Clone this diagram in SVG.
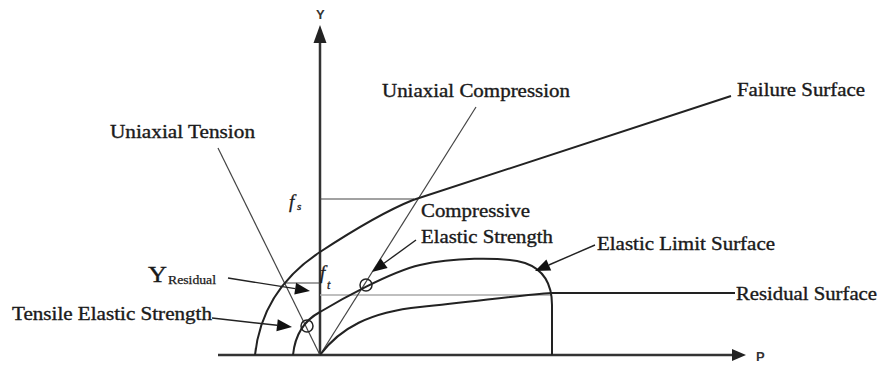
<svg xmlns="http://www.w3.org/2000/svg" width="879" height="367" viewBox="0 0 879 367">
<defs>
<style>
.lbl{font-family:"Liberation Serif","Times New Roman",serif;font-size:18px;fill:#1a1a1a;stroke:#1a1a1a;stroke-width:0.35;}
.ax{font-family:"Liberation Sans",Arial,sans-serif;font-size:13px;font-weight:bold;fill:#333;}
.it{font-family:"Liberation Serif","Times New Roman",serif;font-style:italic;fill:#1a1a1a;stroke:#1a1a1a;stroke-width:0.3;}
.axis{stroke:#333;stroke-width:2.5;fill:none;}
.curve{stroke:#222;stroke-width:2;fill:none;}
.thin{stroke:#444;stroke-width:1.2;fill:none;}
.lead{stroke:#222;stroke-width:1.4;fill:none;}
.head{fill:#111;}
</style>
</defs>
<rect width="879" height="367" fill="#fff"/>
<g id="axes">
<line class="axis" x1="320" y1="356" x2="320" y2="40"/>
<path d="M313.5,43 L320,25 L326.5,43 z" fill="#222"/>
<line class="axis" x1="218" y1="355" x2="735" y2="355"/>
<path d="M732,349 L746,355 L732,361 z" fill="#222"/>
<text class="ax" x="316" y="19">Y</text>
<text class="ax" x="756" y="361">P</text>
</g>
<g id="guides">
<line class="thin" x1="320" y1="199" x2="414" y2="199"/>
<line class="thin" x1="284" y1="283" x2="320" y2="283"/>
<line x1="320" y1="295" x2="552" y2="295" stroke="#aaa" stroke-width="1.5"/>
<line class="thin" x1="218" y1="148" x2="320" y2="355"/>
<line class="thin" x1="476" y1="107" x2="320" y2="355"/>
</g>
<g id="failure-surface">
<path class="curve" d="M255,355 Q262,290 320,252 T413,200 L731,96"/>
</g>
<g id="elastic-limit-surface">
<path class="curve" d="M293,355 C295,335 305,320 320,312 C340,300 390,272 420,265 C450,258 500,256 525,263 C545,270 552,285 552,305 L552,355"/>
</g>
<g id="residual-surface">
<path class="curve" d="M320,355 C340,328 370,312 420,307 C480,301 520,295 552,293 L735,293"/>
</g>
<g id="points">
<circle cx="307" cy="326" r="6" fill="none" stroke="#222" stroke-width="1.5"/>
<circle cx="366" cy="285" r="6" fill="none" stroke="#222" stroke-width="1.5"/>
</g>
<g id="connectors">
<line class="lead" x1="416" y1="240" x2="384" y2="263.3"/>
<path class="head" d="M372,272 L387.6,268.1 L380.6,258.3 z"/>
<line class="lead" x1="595" y1="245" x2="548.8" y2="265"/>
<path class="head" d="M535,271 L551.2,270.5 L546.4,259.5 z"/>
<line class="lead" x1="228" y1="278" x2="295.2" y2="288.6"/>
<path class="head" d="M310,291 L294.3,294.5 L296.1,282.7 z"/>
<line class="lead" x1="212" y1="318" x2="277.1" y2="325.3"/>
<path class="head" d="M292,327 L276.4,331.3 L277.8,319.3 z"/>
</g>
<g id="labels">
<text class="lbl" x="110" y="138" textLength="145" lengthAdjust="spacingAndGlyphs">Uniaxial Tension</text>
<text class="lbl" x="382" y="97" textLength="188" lengthAdjust="spacingAndGlyphs">Uniaxial Compression</text>
<text class="lbl" x="737" y="96" textLength="128" lengthAdjust="spacingAndGlyphs">Failure Surface</text>
<text class="lbl" x="421" y="217" textLength="109" lengthAdjust="spacingAndGlyphs">Compressive</text>
<text class="lbl" x="421" y="243" textLength="132" lengthAdjust="spacingAndGlyphs">Elastic Strength</text>
<text class="lbl" x="597" y="250" textLength="178" lengthAdjust="spacingAndGlyphs">Elastic Limit Surface</text>
<text class="lbl" x="736" y="300" textLength="141" lengthAdjust="spacingAndGlyphs">Residual Surface</text>
<text class="lbl" x="12" y="320" textLength="200" lengthAdjust="spacingAndGlyphs">Tensile Elastic Strength</text>
<text class="lbl" x="148" y="282" style="font-size:24px" textLength="19" lengthAdjust="spacingAndGlyphs">Y</text>
<text class="lbl" x="168" y="284" style="font-size:12px;stroke-width:0.25" textLength="48" lengthAdjust="spacingAndGlyphs">Residual</text>
<text class="it" x="289" y="208" style="font-size:19px">f</text>
<text class="it" x="297" y="210" style="font-size:11px">s</text>
<text class="it" x="320" y="279" style="font-size:19px">f</text>
<text class="it" x="327" y="289" style="font-size:12px">t</text>
</g>
</svg>
